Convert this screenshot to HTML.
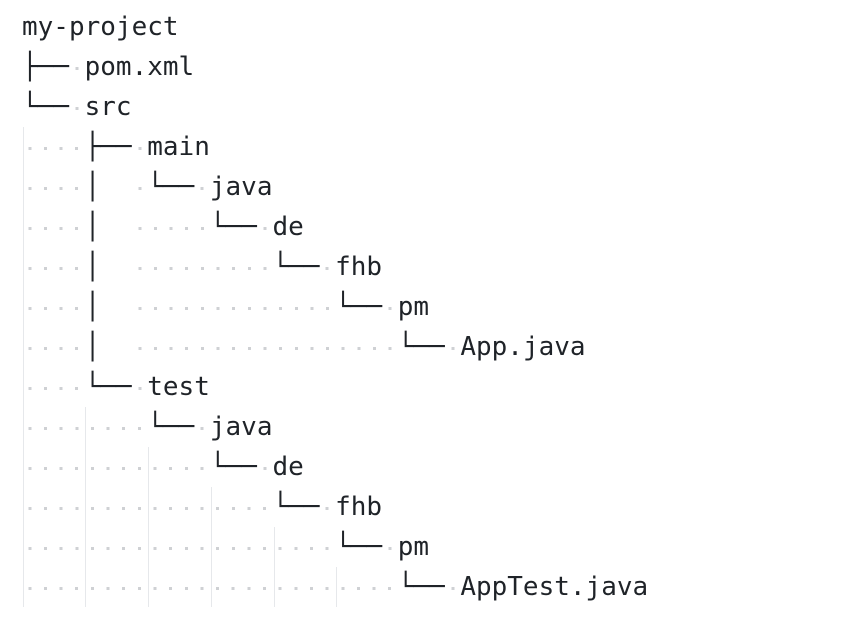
<!DOCTYPE html>
<html><head><meta charset="utf-8"><style>
html,body{margin:0;padding:0;background:#fff;width:844px;height:626px;overflow:hidden;position:relative}
pre{position:absolute;left:22px;top:7px;margin:0;font-family:"DejaVu Sans Mono","Liberation Mono",monospace;font-size:26px;line-height:40px;color:#1f2328;white-space:pre}
.d{background-image:repeating-linear-gradient(to right,transparent 0,transparent 6.3px,#cfd1d4 6.3px,#cfd1d4 9.3px,transparent 9.3px,transparent 15.65px);background-size:100% 3px;background-position:0 55%;background-repeat:no-repeat}
.g{position:absolute;width:1px;background:#e6e8eb;bottom:19px}
</style></head><body>
<div class="g" style="left:23px;top:127px"></div>
<div class="g" style="left:85px;top:407px"></div>
<div class="g" style="left:148px;top:447px"></div>
<div class="g" style="left:211px;top:487px"></div>
<div class="g" style="left:274px;top:527px"></div>
<div class="g" style="left:336px;top:567px"></div>
<pre>my-project
├──<span class="d"> </span>pom.xml
└──<span class="d"> </span>src
<span class="d">    </span>├──<span class="d"> </span>main
<span class="d">    </span>│  <span class="d"> </span>└──<span class="d"> </span>java
<span class="d">    </span>│  <span class="d">     </span>└──<span class="d"> </span>de
<span class="d">    </span>│  <span class="d">         </span>└──<span class="d"> </span>fhb
<span class="d">    </span>│  <span class="d">             </span>└──<span class="d"> </span>pm
<span class="d">    </span>│  <span class="d">                 </span>└──<span class="d"> </span>App.java
<span class="d">    </span>└──<span class="d"> </span>test
<span class="d">        </span>└──<span class="d"> </span>java
<span class="d">            </span>└──<span class="d"> </span>de
<span class="d">                </span>└──<span class="d"> </span>fhb
<span class="d">                    </span>└──<span class="d"> </span>pm
<span class="d">                        </span>└──<span class="d"> </span>AppTest.java</pre>
</body></html>
